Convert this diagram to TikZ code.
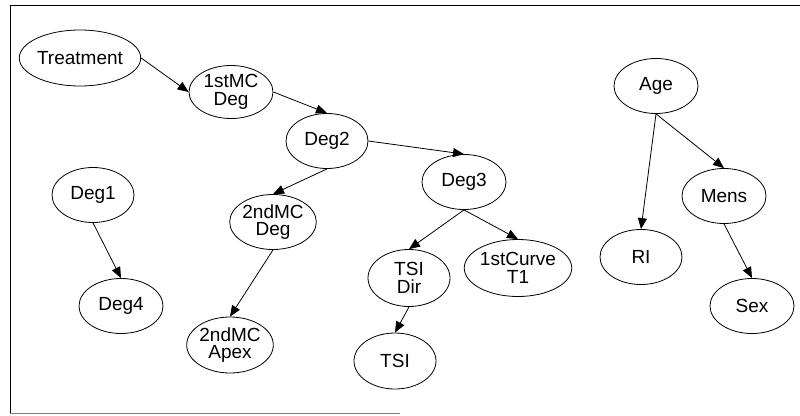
\documentclass[tikz,border=0pt]{standalone}
\usepackage{fontspec}
\setmainfont{Liberation Sans}
\usetikzlibrary{shapes.geometric,arrows.meta}
\begin{document}
\begin{tikzpicture}[x=1pt,y=-1pt,
  nd/.style={draw,ellipse,inner sep=0pt,minimum width=82pt,minimum height=55pt,
    font=\fontsize{19}{17.5}\selectfont,align=center,line width=0.8pt},
  arr/.style={-{Triangle[length=11pt,width=9pt]},line width=0.8pt}]
\useasboundingbox (0,0) rectangle (800,415);
\draw[line width=1pt] (800,5) -- (10,5) -- (10,413);
\draw[line width=1pt,gray] (10,413) -- (400,413);
\node[nd,minimum width=110pt,minimum height=56pt] (treat) at (80,58) {Treatment};
\node[nd,minimum width=84pt,minimum height=53pt] (mc1) at (231,92) {1stMC\\Deg};
\node[nd] (deg2) at (327,141) {Deg2};
\node[nd] (deg1) at (93,195) {Deg1};
\node[nd] (mc2) at (273,222) {2ndMC\\Deg};
\node[nd,minimum width=84pt] (deg4) at (121,306) {Deg4};
\node[nd,minimum height=56pt] (apex) at (230,345) {2ndMC\\Apex};
\node[nd,minimum width=84pt] (deg3) at (464,182) {Deg3};
\node[nd,minimum height=57pt] (tsidir) at (409,278) {TSI\\Dir};
\node[nd,minimum width=95pt,minimum height=57pt] (curve) at (518,268) {1stCurve\\T1};
\node[nd,minimum height=56pt] (tsi) at (395,361) {TSI};
\node[nd,minimum width=84pt] (age) at (656,86) {Age};
\node[nd,minimum width=84pt] (mens) at (724,196) {Mens};
\node[nd] (ri) at (641,257) {RI};
\node[nd,minimum width=84pt] (sex) at (752,306) {Sex};
\draw[arr] (treat.east) -- (mc1.west);
\draw[arr] (mc1.east) -- (deg2.north);
\draw[arr] (deg2.east) -- (deg3.north);
\draw[arr] (deg2.south) -- (mc2.north);
\draw[arr] (mc2.south) -- (apex.north);
\draw[arr] (deg3.south) -- (tsidir.north);
\draw[arr] (deg3.south) -- (curve.north);
\draw[arr] (tsidir.south) -- (tsi.north);
\draw[arr] (deg1.south) -- (deg4.north);
\draw[arr] (age.south) -- (ri.north);
\draw[arr] (age.south) -- (mens.north);
\draw[arr] (mens.south) -- (sex.north);
\end{tikzpicture}
\end{document}
